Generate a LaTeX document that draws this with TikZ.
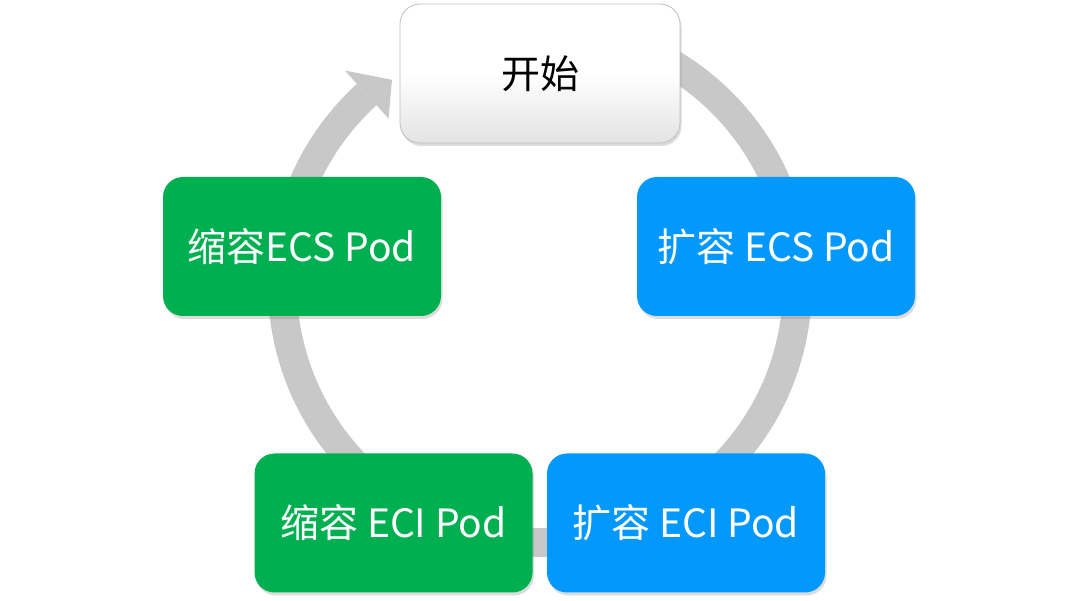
\documentclass[tikz,border=0pt]{standalone}
\usepackage{fontspec}
\setmainfont{Noto Sans CJK SC}
\usetikzlibrary{calc,shadows}
\definecolor{ringgray}{RGB}{200,200,200}
\definecolor{boxgreen}{RGB}{0,176,80}
\definecolor{boxblue}{RGB}{3,152,252}
\definecolor{startborder}{RGB}{190,190,190}
\tikzset{
  cyclebox/.style={rounded corners=20pt, minimum width=278pt, minimum height=139pt,
    inner sep=0pt, font=\fontsize{39}{43}\selectfont, text=white,
    drop shadow={shadow xshift=1.5pt, shadow yshift=-3pt, opacity=0.28}},
  greenbox/.style={cyclebox, fill=boxgreen},
  bluebox/.style={cyclebox, fill=boxblue},
  startbox/.style={cyclebox, text=black, draw=startborder, line width=0.8pt,
    top color=white, bottom color=black!11, middle color=white, minimum width=280pt},
  ringline/.style={draw=ringgray, line width=29pt},
  ringtip/.style={fill=ringgray},
}
\begin{document}
\begin{tikzpicture}[x=1pt,y=1pt]
\useasboundingbox (0,0) rectangle (1080,-601);
\coordinate (c) at (540,-285);
% ring
\draw[ringline] ($(c)+(80:257.5)$) arc[start angle=80, end angle=-227.7, radius=257.5];
\fill[ringtip] ($(c)+(132.3:290)$) -- ($(c)+(125.8:253)$) -- ($(c)+(132.3:225)$) -- cycle;
% boxes
\node[startbox] (start) at (540,-73.5) {开始};
\node[bluebox] (ecsup) at (776,-246.5) {扩容 ECS Pod};
\node[bluebox] (eciup) at (686,-523) {扩容 ECI Pod};
\node[greenbox] (ecidown) at (393.5,-523) {缩容 ECI Pod};
\node[greenbox] (ecsdown) at (302,-246.5) {缩容ECS Pod};
\end{tikzpicture}
\end{document}
